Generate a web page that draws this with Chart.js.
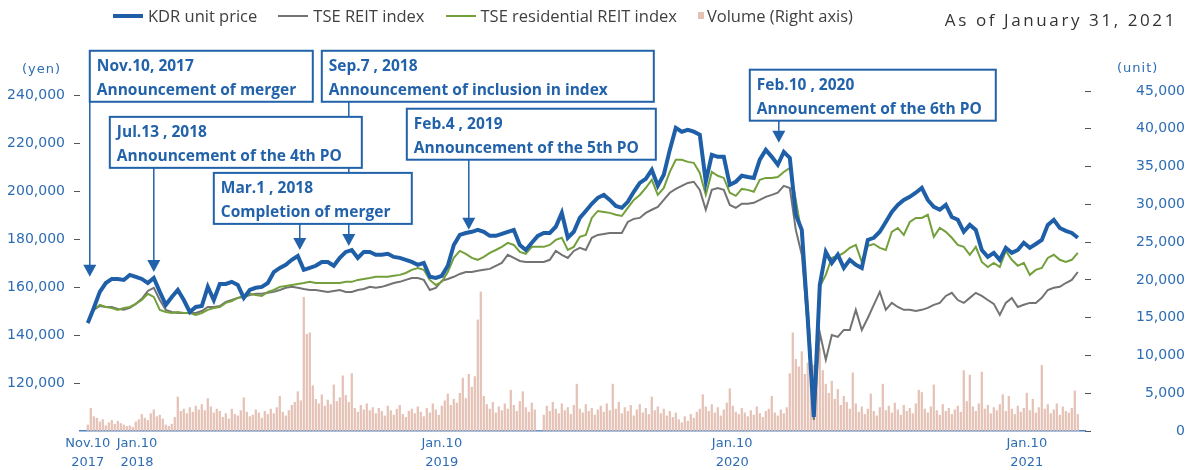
<!DOCTYPE html>
<html>
<head>
<meta charset="utf-8">
<title>KDR unit price</title>
<script src="https://cdn.jsdelivr.net/npm/chart.js@4.4.1/dist/chart.umd.min.js"></script>
<style>
  body { margin: 0; background: #fff; }
  #wrap { position: relative; width: 1185px; height: 470px; font-family: "Open Sans", sans-serif; }
  #chart { position: absolute; left: 0; top: 0; }
  #legend { position: absolute; left: 113px; top: 4px; display: flex; align-items: center;
            font-size: 16.5px; color: #404040; white-space: nowrap; }
  .item { display: flex; align-items: center; margin-right: 21px; }
  .swatch { display: inline-block; width: 30px; margin-right: 5px; }
  .asof { position: absolute; right: 8px; top: 8px; font-size: 17px; letter-spacing: 2.6px; color: #333; }
  .unit { position: absolute; font-family: "DejaVu Sans", sans-serif; font-size: 13px;
          letter-spacing: 1px; color: #2e6db4; }
</style>
</head>
<body>
<div id="wrap">
  <canvas id="chart" width="1185" height="470"></canvas>
  <div id="legend"></div>
  <div class="asof">As of January 31, 2021</div>
  <div class="unit" style="left:22px; top:61px;">(yen)</div>
  <div class="unit" style="left:1117px; top:60px;">(unit)</div>
</div>
<script>
// weekly samples from Nov.10 2017 to end of Jan 2021
var seriesNames = ['KDR unit price', 'TSE REIT index', 'TSE residential REIT index', 'Volume (Right axis)'];

var kdrPrice = [
  145100,151400,158100,161800,163500,163500,163100,165200,164400,163500,
  161800,163900,158100,152700,156000,158900,154700,149700,151800,152200,
  160200,154700,161400,161400,162300,161000,155600,158900,159800,160200,
  161800,166400,168100,169400,171500,173100,167300,168100,169000,170600,
  170600,169000,172300,174800,175600,172300,174800,174800,173600,173600,
  174000,172700,172300,171500,170600,169400,170200,164400,163900,164800,
  169000,177700,181900,182700,183200,184000,183200,181500,181500,182300,
  183200,184000,177700,175600,178600,181500,182700,182700,185300,191100,
  180700,183200,189000,191900,194900,197400,198600,196500,194000,193200,
  195700,199900,203600,205300,209100,202400,207000,217400,226600,225000,
  225800,225000,223700,204100,215300,214500,214500,202800,204100,206600,
  206100,205700,213300,217400,214500,211200,216600,214100,190300,184000,
  146400,105900,161000,174800,170200,173600,168100,171500,169400,168100,
  179800,180700,183200,187300,191500,194400,196500,197800,199500,201500,
  196500,193600,192400,194400,189400,188200,183200,186100,184000,175600,
  172700,174400,171500,176500,174400,175600,178600,176500,178100,179800,
  186100,188200,184800,183600,182700,180700
];

var reitIndex = [
  145100,150600,152200,151800,151800,151000,150600,151400,153100,155200,
  158500,159800,154700,150600,149700,149300,149300,149300,149300,150100,
  151800,151800,152200,153900,154700,155600,156000,156800,157300,157300,
  157700,158100,158900,159800,160200,159800,159300,158900,158900,158500,
  158100,158500,158900,158100,158100,158900,159300,160200,159800,160200,
  161000,161800,162300,163100,163900,163900,163100,158900,159800,162700,
  163500,164400,165600,166400,166400,166900,167300,167700,169000,170200,
  173600,172300,171000,170600,170600,170600,170600,171500,175200,173600,
  172300,175200,176500,175600,180700,181900,182300,182700,182700,182700,
  187300,188600,189000,191100,192400,193600,196500,199500,201100,202400,
  203600,204100,200700,192400,200700,201500,200700,194400,193200,194900,
  194900,195300,196500,197800,198600,199500,202400,201500,184000,173600,
  143500,104600,141000,129700,140100,139300,142200,142200,150600,142200,
  147200,152700,158100,150600,153500,151800,150600,150600,150100,150600,
  151400,152700,153500,156400,157700,154700,153500,155600,157700,156400,
  154700,153100,148500,153500,155600,151800,152700,153500,153500,155600,
  158900,159800,160200,161800,163100,166400
];

var residentialIndex = [
  145100,150600,152700,151800,151400,150600,151400,151800,153100,154700,
  157300,156000,150600,149700,149300,149700,149300,149300,148500,149300,
  150600,151400,151800,153500,154300,155600,156400,157300,156800,156400,
  158100,158900,160200,160600,161000,161400,161800,162300,161800,161800,
  161800,161800,161800,162300,162300,163100,163500,163900,164400,164400,
  164400,164800,165200,166000,167300,168100,167300,163100,161000,162300,
  166400,172300,175200,174000,172300,171500,172700,174400,175600,176900,
  178600,177700,174800,174000,176900,176900,176900,177700,179800,180700,
  175600,176900,181100,181900,189000,191900,191500,191100,190300,189800,
  193200,196500,198600,201500,204900,198600,201500,208200,213300,213300,
  212400,212000,207800,198600,208200,206600,205700,199500,198200,201100,
  200700,199900,204900,205700,205700,206100,208200,209900,196500,181900,
  151800,110900,160200,165200,172300,173100,174400,176500,177700,170600,
  177300,178100,176500,175600,183200,184800,181900,187300,189000,189000,
  190300,181100,184800,183200,180700,177700,176900,173600,176900,170600,
  168500,170200,168500,175200,171500,169000,170200,165200,167300,168100,
  172300,173600,171500,170600,171500,174400
];

// two volume samples per week
var volume = [
  800,3000,1900,1700,1200,1500,700,1100,1400,900,
  1300,1000,800,600,700,500,1200,1500,2200,1700,
  1400,2300,2800,1900,2100,1600,800,600,900,1800,
  4500,2600,2900,2300,3100,2500,3300,2800,3500,2700,
  4300,3200,2400,2900,2600,1800,2300,1600,2900,2200,
  2000,2700,4400,2500,1900,2100,2800,2400,1700,2600,
  2200,2900,2300,3100,4600,2500,2000,2700,3400,3800,
  5200,4000,17700,12800,13000,6000,4200,3600,4800,3300,
  4100,3500,6100,3900,4400,7300,4700,3800,7600,3000,
  2500,3400,2800,3600,2700,3100,2300,3000,2600,2000,
  3300,2700,2100,2900,3400,2200,1800,2600,2900,2300,
  3200,2500,1900,3000,2400,3600,2800,2100,3300,4000,
  4900,3400,4200,3700,5000,7000,4300,7500,5800,7200,
  14700,18400,4600,3500,2900,3800,2400,3200,2700,3600,
  2900,5400,3400,2600,3900,5200,3100,2500,3700,2800,
  0,0,2100,3300,2600,3800,2900,2300,3600,2700,
  3100,2200,3400,6200,2900,2400,3500,2600,3000,2100,
  2800,3300,2500,3600,2700,6200,2900,3800,2300,3100,
  2600,3400,2000,2800,3500,2400,3000,2200,4500,2700,
  3200,2300,2900,2000,2600,1800,2400,1500,1100,1900,
  1300,2200,1700,2500,2900,4800,3200,2600,3500,2400,
  3100,2000,2800,3700,5600,3300,2500,2200,3000,2400,
  1900,2700,2100,3200,2300,1800,2600,2900,4600,2400,
  2000,2800,2300,3100,7600,13000,9500,8500,10500,7500,
  9000,6500,8700,7000,11000,8000,6200,5000,6600,4200,
  5500,3400,4600,3800,2900,7700,3600,2500,3200,2200,
  2900,4900,2600,2000,3100,6200,2700,3300,2400,3700,
  2800,2100,3400,2600,3000,2300,3600,5400,5100,2900,
  2400,3200,6100,2700,2100,3500,2600,3000,2200,2800,
  3300,2500,8000,3900,7400,3200,2600,3600,7800,2900,
  3400,2300,3100,2700,3500,4800,2600,4600,2900,2200,
  3300,2500,3000,5000,2700,4200,2400,3100,8700,2900,
  3500,2300,2800,3600,2100,3200,2600,2400,3000,5300,
  2200
];

// tick positions and labels
var xTickPos = [0, 8.2, 59, 107.4, 156.5];
var xTickLabels = [['Nov.10', '2017'], ['Jan.10', '2018'], ['Jan.10', '2019'], ['Jan.10', '2020'], ['Jan.10', '2021']];
var priceTicks = [120000, 140000, 160000, 180000, 200000, 220000, 240000];
var volumeTicks = [0, 5000, 10000, 15000, 20000, 25000, 30000, 35000, 40000, 45000];

var KDR_COLOR = '#1f5fa8';
var REIT_COLOR = '#737373';
var RESI_COLOR = '#74a03c';
var VOL_COLOR = '#e6c2b6';
var AXIS_TEXT = '#2e6db4';
var NOTE_COLOR = '#2262aa';

// event call-outs: box anchored in data units, arrow tip at (x, tip)
var notes = [
  { date: 'Nov.10, 2017', text: 'Announcement of merger', x: 0.33, tip: 164400, boxX: 0.33, boxY: 258800, w: 223 },
  { date: 'Jul.13 , 2018', text: 'Announcement of the 4th PO', x: 11, tip: 166400, boxX: 3.67, boxY: 231200, w: 252 },
  { date: 'Mar.1 , 2018', text: 'Completion of merger', x: 35.33, tip: 175600, boxX: 21, boxY: 207800, w: 198 },
  { date: 'Sep.7 , 2018', text: 'Announcement of inclusion in index', x: 43.5, tip: 177300, boxX: 39, boxY: 258800, w: 332 },
  { date: 'Feb.4 , 2019', text: 'Announcement of the 5th PO', x: 63.5, tip: 184000, boxX: 53.17, boxY: 234600, w: 249 },
  { date: 'Feb.10 , 2020', text: 'Announcement of the 6th PO', x: 115.17, tip: 220400, boxX: 110.33, boxY: 250900, w: 246 }
];

function toPoints(arr, step) {
  return arr.map(function (v, i) { return { x: i * step, y: v }; });
}

function fixedTicks(list) {
  return function (scale) {
    scale.ticks = list.map(function (v) { return { value: v }; });
  };
}

// legend (html)
var legendItems = [
  { name: seriesNames[0], color: KDR_COLOR, h: 4, w: 30 },
  { name: seriesNames[1], color: REIT_COLOR, h: 2, w: 30 },
  { name: seriesNames[2], color: RESI_COLOR, h: 2, w: 30 },
  { name: seriesNames[3], color: VOL_COLOR, h: 7, w: 6 }
];
var legendHtml = '';
legendItems.forEach(function (it) {
  legendHtml += '<span class="item"><span class="swatch" style="width:' + it.w + 'px;height:' + it.h +
    'px;background:' + it.color + ';margin-right:' + (it.w < 10 ? 3 : 5) + 'px"></span>' + it.name + '</span>';
});
document.getElementById('legend').innerHTML = legendHtml;

var notePlugin = {
  id: 'notes',
  afterDraw: function (chart) {
    var ctx = chart.ctx;
    var xs = chart.scales.x, ys = chart.scales.y;
    var boxH = 51;
    ctx.save();
    // arrows first, boxes cover them
    notes.forEach(function (n) {
      var by = ys.getPixelForValue(n.boxY);
      var ax = xs.getPixelForValue(n.x);
      var ay = ys.getPixelForValue(n.tip);
      ctx.strokeStyle = NOTE_COLOR;
      ctx.lineWidth = 1.5;
      ctx.beginPath();
      ctx.moveTo(ax, by + boxH);
      ctx.lineTo(ax, ay - 11);
      ctx.stroke();
      ctx.fillStyle = NOTE_COLOR;
      ctx.beginPath();
      ctx.moveTo(ax - 6.5, ay - 12);
      ctx.lineTo(ax + 6.5, ay - 12);
      ctx.lineTo(ax, ay);
      ctx.closePath();
      ctx.fill();
    });
    ctx.font = 'bold 15.5px "Open Sans"';
    ctx.textBaseline = 'middle';
    notes.forEach(function (n) {
      var bx = xs.getPixelForValue(n.boxX);
      var by = ys.getPixelForValue(n.boxY);
      ctx.fillStyle = '#fff';
      ctx.fillRect(bx, by, n.w, boxH);
      ctx.strokeStyle = NOTE_COLOR;
      ctx.lineWidth = 2;
      ctx.strokeRect(bx, by, n.w, boxH);
      ctx.fillStyle = NOTE_COLOR;
      ctx.fillText(n.date, bx + 7, by + 16);
      ctx.fillText(n.text, bx + 7, by + 40);
    });
    ctx.restore();
  }
};

var ctx = document.getElementById('chart').getContext('2d');
var myChart = new Chart(ctx, {
  type: 'line',
  data: {
    datasets: [
      {
        label: seriesNames[0],
        data: toPoints(kdrPrice, 1),
        borderColor: KDR_COLOR,
        borderWidth: 4,
        pointRadius: 0,
        tension: 0,
        yAxisID: 'y',
        order: 1
      },
      {
        label: seriesNames[2],
        data: toPoints(residentialIndex, 1),
        borderColor: RESI_COLOR,
        borderWidth: 2,
        pointRadius: 0,
        tension: 0,
        yAxisID: 'y',
        order: 2
      },
      {
        label: seriesNames[1],
        data: toPoints(reitIndex, 1),
        borderColor: REIT_COLOR,
        borderWidth: 2,
        pointRadius: 0,
        tension: 0,
        yAxisID: 'y',
        order: 3
      },
      {
        type: 'bar',
        label: seriesNames[3],
        data: toPoints(volume, 0.5),
        backgroundColor: VOL_COLOR,
        barThickness: 1.6,
        yAxisID: 'y2',
        order: 4
      }
    ]
  },
  options: {
    responsive: false,
    animation: false,
    layout: { padding: { top: 91, left: 0, right: 0, bottom: 0 } },
    plugins: {
      legend: { display: false },
      tooltip: { enabled: false }
    },
    scales: {
      x: {
        type: 'linear',
        min: -1.3,
        max: 166.2,
        offset: false,
        afterBuildTicks: fixedTicks(xTickPos),
        ticks: {
          autoSkip: false,
          maxRotation: 0,
          padding: 3,
          color: AXIS_TEXT,
          font: { family: 'DejaVu Sans', size: 13, lineHeight: 1.45 },
          callback: function (value, index) { return xTickLabels[index]; }
        },
        grid: { display: false, drawTicks: false },
        border: { display: true, color: '#4f81bd', width: 1.5 },
        afterFit: function (scale) { scale.height = 39; }
      },
      y: {
        type: 'linear',
        position: 'left',
        min: 100000,
        max: 242000,
        afterBuildTicks: fixedTicks(priceTicks),
        ticks: {
          autoSkip: false,
          padding: 9,
          color: AXIS_TEXT,
          font: { family: 'DejaVu Sans', size: 14 },
          callback: function (v) { return v.toLocaleString('en-US'); }
        },
        grid: { display: true, drawOnChartArea: false, drawTicks: true, tickLength: 6, color: '#555' },
        border: { display: false },
        afterFit: function (scale) { scale.width = 80; }
      },
      y2: {
        type: 'linear',
        position: 'right',
        min: 0,
        max: 45000,
        afterBuildTicks: fixedTicks(volumeTicks),
        ticks: {
          autoSkip: false,
          padding: 2,
          crossAlign: 'far',
          color: AXIS_TEXT,
          font: { family: 'DejaVu Sans', size: 14 },
          callback: function (v) { return v.toLocaleString('en-US'); }
        },
        grid: { display: true, drawOnChartArea: false, drawTicks: true, tickLength: 6, color: '#555' },
        border: { display: false },
        afterFit: function (scale) { scale.width = 100; }
      }
    }
  },
  plugins: [notePlugin]
});
</script>
</body>
</html>
